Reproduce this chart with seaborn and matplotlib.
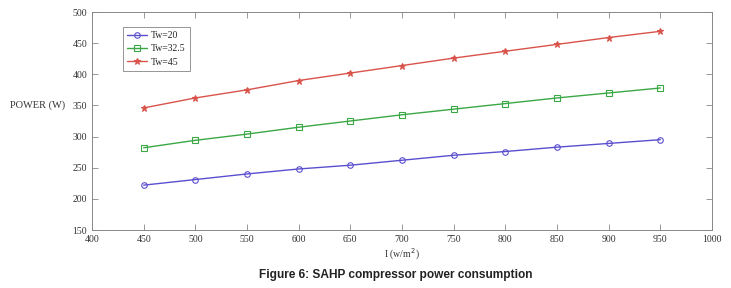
import seaborn as sns
import matplotlib.pyplot as plt
import numpy as np
import pandas as pd

# irradiance values (x axis)
irr = [450, 500, 550, 600, 650, 700, 750, 800, 850, 900, 950]

# compressor power for each water temperature
tw20 = [222, 231, 240, 248, 254, 262, 270, 276, 283, 289, 295]
tw325 = [282, 294, 304, 315, 325, 335, 344, 353, 362, 370, 378]
tw45 = [346, 362, 375, 390, 402, 414, 426, 437, 448, 459, 469]

labels = ['Tw=20', 'Tw=32.5', 'Tw=45']

df = pd.DataFrame({
    'I': irr * 3,
    'power': tw20 + tw325 + tw45,
    'series': [labels[0]] * len(irr) + [labels[1]] * len(irr) + [labels[2]] * len(irr),
})

sns.set_style("ticks")
plt.rcParams['font.family'] = ['Liberation Serif', 'DejaVu Serif']

colors = {'Tw=20': '#5a4fcf', 'Tw=32.5': '#3aa845', 'Tw=45': '#d9534a'}
marks = {'Tw=20': 'o', 'Tw=32.5': 's', 'Tw=45': '*'}

fig = plt.figure(figsize=(7.31, 2.88), dpi=100)
ax = fig.add_axes([92 / 731, 1 - 230 / 288, 620 / 731, 218 / 288])

for name in labels:
    sub = df[df['series'] == name]
    filled = name == 'Tw=45'
    sns.lineplot(data=sub, x='I', y='power', ax=ax, color=colors[name], label=name,
                 marker=marks[name], markersize=4 if not filled else 5,
                 markerfacecolor=colors[name] if filled else 'none',
                 markeredgecolor=colors[name], markeredgewidth=0.8, linewidth=1.0)

ax.set_xlim(400, 1000)
ax.set_ylim(150, 500)
ax.set_xticks(np.arange(400, 1001, 50))
ax.set_yticks(np.arange(150, 501, 50))
ax.tick_params(direction='in', top=True, right=True, labelsize=7, length=4,
               color='#888888', labelcolor='#333333', width=0.6)
for s in ax.spines.values():
    s.set_color('#888888')
    s.set_linewidth(0.7)

ax.set_xlabel('I (w/m$^2$)', fontsize=7, labelpad=2, color='#333333')
ax.set_ylabel('')
fig.text(10 / 731, 1 - 105 / 288, 'POWER (W)', fontsize=7.5, color='#333333', va='center', ha='left')

leg = ax.legend(loc='upper left', bbox_to_anchor=(0.042, 0.955), fontsize=7,
                frameon=True, fancybox=False, edgecolor='#666666', handlelength=2.0,
                borderpad=0.45, labelspacing=0.45, handletextpad=0.4)
leg.get_frame().set_linewidth(0.6)

fig.text(396 / 731, 1 - 275 / 288, 'Figure 6: SAHP compressor power consumption',
         fontsize=8.6, fontweight='bold', family=['Liberation Sans', 'DejaVu Sans'],
         ha='center', va='center', color='#222222')

fig.savefig('out.png', dpi=100)
